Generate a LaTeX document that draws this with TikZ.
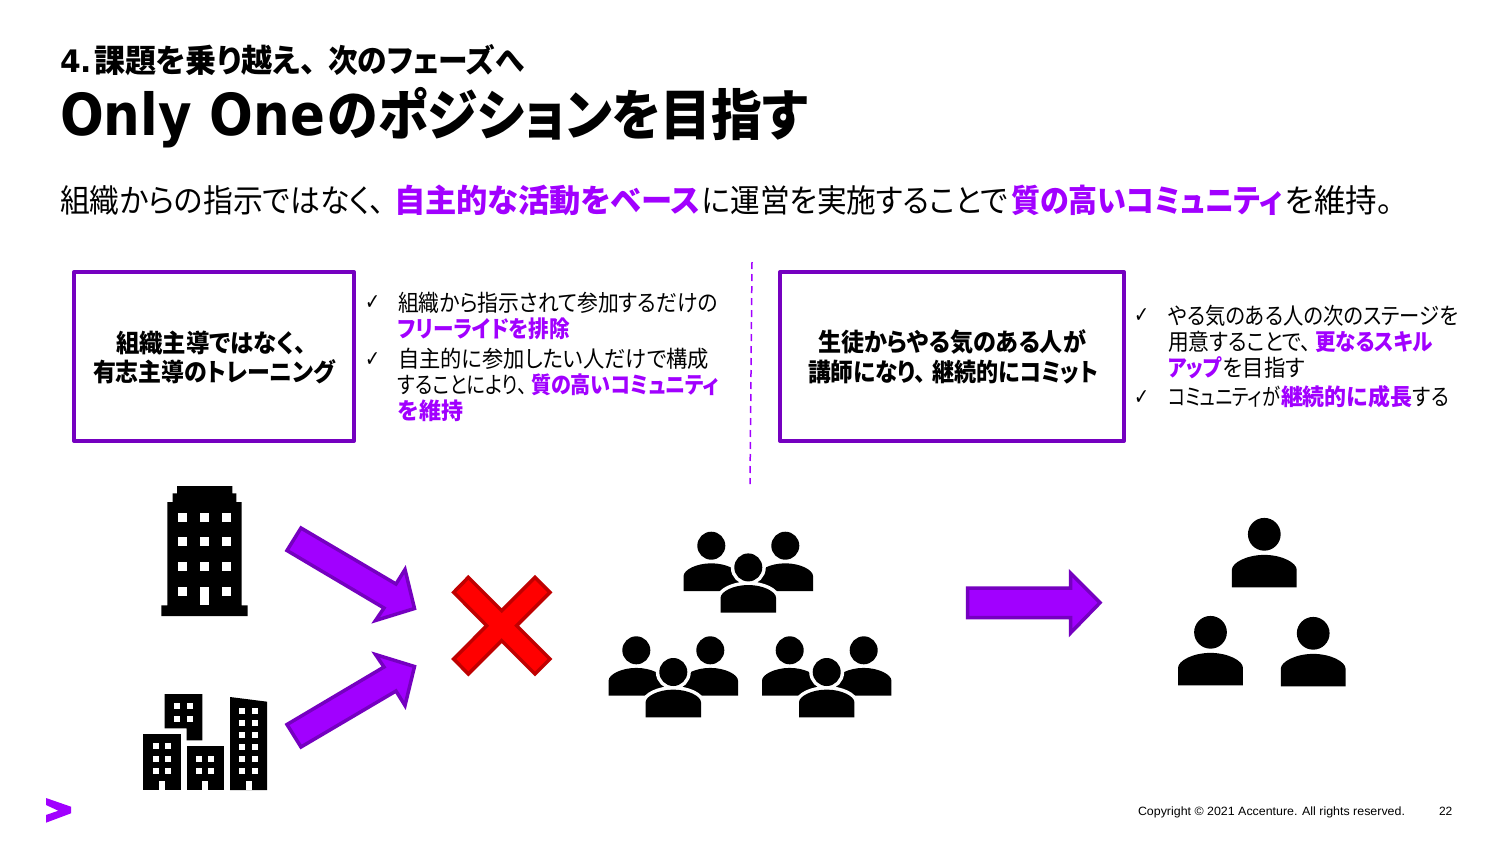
\documentclass[tikz,border=0pt]{standalone}
\usepackage{graphicx}
\usepackage{fontspec}
\newfontfamily\jp[RawFeature=+palt]{Noto Sans CJK JP}
\newfontfamily\lat{DejaVu Sans}
\newfontfamily\arialf{Liberation Sans}
\newfontfamily\chk{DejaVu Sans}
\definecolor{hlp}{HTML}{A100FF}
\definecolor{dkp}{HTML}{7500C0}
\definecolor{xred}{HTML}{FF0000}
\definecolor{xdark}{HTML}{C00000}
\newcommand{\hl}[1]{{\bfseries\color{hlp}#1}}
\newcommand{\fitw}[2]{\resizebox*{#1pt}{\totalheight}{#2}}
\newcommand{\fs}[1]{\fontsize{#1}{#1}\selectfont}
\newcommand{\gap}[1]{\hspace*{#1pt}}
\newcommand{\tick}{\fitw{15}{\chk\fs{22}✓}}
\tikzset{
  txt/.style={anchor=base west,inner sep=0pt,outer sep=0pt,text=black},
  framebox/.style={draw=dkp,line width=4pt,line join=round,fill=white,inner sep=0pt,minimum height=169pt},
  blockarrow/.style={draw=dkp,line width=3.5pt,fill=hlp,miter limit=10},
  icon/.style={fill=black,draw=none},
  win/.style={fill=white,draw=none},
  person/.pic={
    \fill[black] (-27.7,0) -- (-27.7,-15) .. controls (-27.7,-21) and (-15,-27.7) .. (0,-27.7) .. controls (15,-27.7) and (27.7,-21) .. (27.7,-15) -- (27.7,0) -- cycle;
    \fill[black] (0,-45.3) circle[radius=14];
  },
  halo/.pic={
    \filldraw[white,line width=7pt] (-27.7,0) -- (-27.7,-15) .. controls (-27.7,-21) and (-15,-27.7) .. (0,-27.7) .. controls (15,-27.7) and (27.7,-21) .. (27.7,-15) -- (27.7,0) -- cycle;
    \filldraw[white,line width=7pt] (0,-45.3) circle[radius=14];
  },
  team/.pic={
    \pic at (-37,-21.7) {person};
    \pic at (37,-21.7) {person};
    \pic {halo};
    \pic {person};
  }
}
\begin{document}
\begin{tikzpicture}[x=1pt,y=-1pt]
\useasboundingbox[fill=white] (0,0) rectangle (1500,844);

% titles
\node[txt] (t1) at (60,72) {\jp\bfseries\fs{32}\fitw{32}{\lat\bfseries\fs{31}4.}\gap{2}\fitw{222}{課題を乗り越え、}\gap{12}\fitw{196}{次のフェーズへ}};
\node[txt] (t2) at (60,135) {\jp\bfseries\fs{55}\fitw{265}{\lat\bfseries\fs{58}Only One}\gap{3}\fitw{480}{のポジションを目指す}};
\node[txt] (sub) at (60,212) {\jp\fs{32}\fitw{325}{組織からの指示ではなく、}\gap{9}\fitw{306}{\hl{自主的な活動をベース}}\gap{2}\fitw{306}{に運営を実施することで}\gap{3}\fitw{271}{\hl{質の高いコミュニティ}}\gap{3}\fitw{108}{を維持。}};

% frames
\node[framebox,minimum width=280pt] (box1) at (214,356.5) {};
\node[framebox,minimum width=344pt] (box2) at (952,356.5) {};
\node[txt] (b1a) at (116,352) {\fitw{190}{\jp\bfseries\fs{25}組織主導ではなく、}};
\node[txt] (b1b) at (93,381) {\fitw{242}{\jp\bfseries\fs{25}有志主導のトレーニング}};
\node[txt] (b2a) at (818,351) {\fitw{268}{\jp\bfseries\fs{25}生徒からやる気のある人が}};
\node[txt] (b2b) at (808,381) {\jp\bfseries\fs{25}\fitw{118}{講師になり、}\gap{6}\fitw{166}{継続的にコミット}};

% divider
\coordinate (dtop) at (752,262);
\coordinate (dbot) at (750,484);
\draw[hlp,line width=1.5pt,dash pattern=on 7pt off 5pt] (dtop) -- (dbot);

% left bullets
\node[txt] (c1) at (365,309) {\tick};
\node[txt] (c2) at (365,366) {\tick};
\node[txt] (l1) at (398,311) {\fitw{320}{\jp\fs{23}組織から指示されて参加するだけの}};
\node[txt] (l2) at (398,337) {\fitw{172}{\jp\fs{23}\hl{フリーライドを排除}}};
\node[txt] (l3) at (398,367) {\fitw{311}{\jp\fs{23}自主的に参加したい人だけで構成}};
\node[txt] (l4) at (398,393) {\jp\fs{23}\fitw{129}{することにより、}\gap{4}\fitw{188}{\hl{質の高いコミュニティ}}};
\node[txt] (l5) at (398,419) {\fitw{65}{\jp\fs{23}\hl{を維持}}};

% right bullets
\node[txt] (c3) at (1134,322) {\tick};
\node[txt] (c4) at (1134,404) {\tick};
\node[txt] (r1) at (1168,324) {\fitw{290}{\jp\fs{23}やる気のある人の次のステージを}};
\node[txt] (r2) at (1168,350) {\jp\fs{23}\fitw{143}{用意することで、}\gap{4}\fitw{118}{\hl{更なるスキル}}};
\node[txt] (r3) at (1168,376) {\jp\fs{23}\fitw{54}{\hl{アップ}}\gap{1}\fitw{82}{を目指す}};
\node[txt] (r4) at (1168,405) {\jp\fs{23}\fitw{112}{コミュニティが}\gap{1}\fitw{131}{\hl{継続的に成長}}\gap{1}\fitw{36}{する}};

% block arrows
\draw[blockarrow] (301,528) -- (287,550.5) -- (384,608) -- (375.5,620.5) -- (414.5,608.5) -- (405,569.5) -- (396,584) -- cycle;
\draw[blockarrow] (301,747) -- (287,724.5) -- (384,667) -- (375.5,654.5) -- (414.5,666.5) -- (405,705.5) -- (396,691) -- cycle;
\draw[blockarrow] (967.5,588) -- (1070.5,588) -- (1070.5,573) -- (1100,602.7) -- (1070.5,633) -- (1070.5,617.5) -- (967.5,617.5) -- cycle;

% red cross
\begin{scope}[shift={(430,510)},x=0.33333pt,y=-0.33333pt]
\draw[draw=xdark,fill=xred,line width=3.5pt] (215,302) -- (315,202) -- (360,247) -- (260,347) -- (360,447) -- (315,492) -- (215,392) -- (115,492) -- (71,447) -- (170,347) -- (71,247) -- (115,202) -- cycle;
\end{scope}

% buildings
\begin{scope}[shift={(130,470)},x=0.33333pt,y=-0.33333pt]
\fill[icon] (94,438) -- (94,406) -- (112,406) -- (112,96) -- (128,96) -- (128,70) -- (141,70) -- (141,48) -- (307,48) -- (307,70) -- (319,70) -- (319,96) -- (335,96) -- (335,406) -- (353,406) -- (353,438) -- cycle;
\foreach \wx in {145,210,275}{\foreach \wy in {128,202,276}{\fill[win] (\wx,\wy) rectangle ++(27,27);}}
\fill[win] (145,350) rectangle ++(27,27);
\fill[win] (275,350) rectangle ++(27,27);
\fill[win] (210,350) rectangle (237,406);
% town
\fill[icon] (104,672) -- (217,672) -- (217,811) -- (170,811) -- (170,775) -- (104,775) -- cycle;
\foreach \wx in {133,170}{\foreach \wy in {700,737}{\fill[win] (\wx,\wy) rectangle ++(18,18);}}
\fill[icon] (40,792) rectangle (152,960);
\foreach \wx in {68,105}{\foreach \wy in {820,857,894}{\fill[win] (\wx,\wy) rectangle ++(18,18);}}
\fill[win] (87,932) rectangle (105,960);
\fill[icon] (170,829) rectangle (282,960);
\foreach \wx in {198,235}{\foreach \wy in {857,894}{\fill[win] (\wx,\wy) rectangle ++(18,18);}}
\fill[win] (217,932) rectangle (235,960);
\fill[icon] (300,681) -- (411,695) -- (411,960) -- (300,960) -- cycle;
\foreach \wx in {328,365}{\foreach \wy in {713,749,785,821,857,894}{\fill[win] (\wx,\wy) rectangle ++(18,18);}}
\fill[win] (347,932) rectangle (365,960);
\end{scope}

% people
\pic at (748.3,612.7) {team};
\pic at (673.3,717.3) {team};
\pic at (826.7,717.3) {team};
\pic[scale=1.17] at (1264.3,587.3) {person};
\pic[scale=1.17] at (1210.5,685.3) {person};
\pic[scale=1.17] at (1313.2,686.3) {person};

% footer
\fill[hlp] (46,798) -- (71,806.7) -- (71,813.3) -- (46,822.7) -- (46,815) -- (58.3,810.7) -- (46,805) -- cycle;
\node[txt] (copy) at (1138,815.5) {\fitw{267}{\arialf\fs{12}Copyright © 2021 Accenture. All rights reserved.}};
\node[txt] (pg) at (1439,815.5) {\arialf\fs{12}22};
\end{tikzpicture}
\end{document}
